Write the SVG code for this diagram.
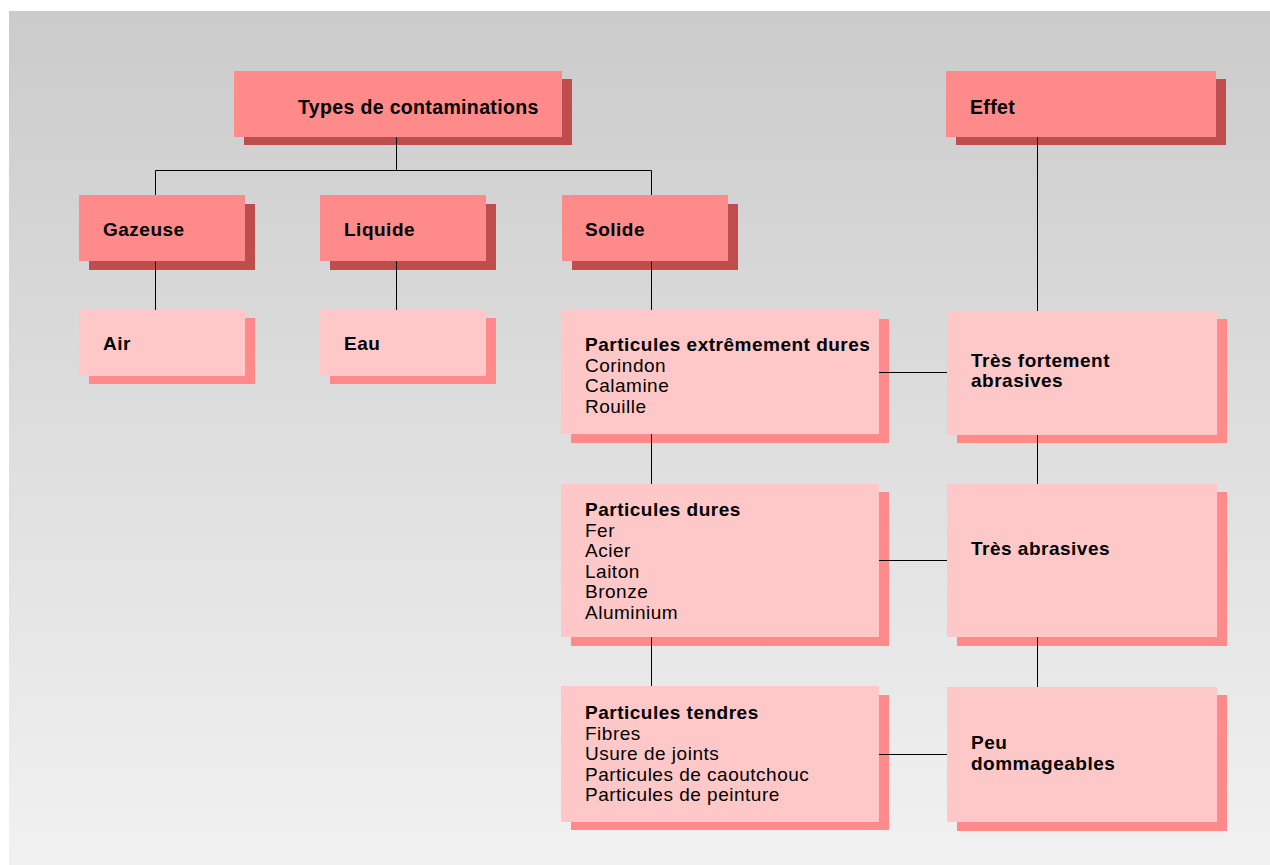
<svg xmlns="http://www.w3.org/2000/svg" width="1270" height="865" viewBox="0 0 1270 865">
  <style>
    .head { fill: #ff8a8a; }
    .head-sh { fill: #be4e4e; }
    .leaf { fill: #ffc8c8; }
    .leaf-sh { fill: #ff8a8a; }
    text { font-family: "Liberation Sans", Arial, Helvetica, sans-serif; font-size: 19px; letter-spacing: 0.5px; fill: #000; }
    .b { font-weight: bold; }
    .title { font-size: 19.5px; letter-spacing: 0.35px; }
    .wire { stroke: #000; stroke-width: 1; fill: none; }
  </style>
  <defs>
    <linearGradient id="bg" x1="0" y1="0" x2="0" y2="1">
      <stop offset="0" stop-color="#cbcbcb"/>
      <stop offset="1" stop-color="#f1f1f1"/>
    </linearGradient>
  </defs>

  <rect x="0" y="0" width="1270" height="865" fill="#ffffff"/>
  <rect x="9" y="11" width="1261" height="854" fill="url(#bg)"/>

  <g id="types">
    <rect class="head-sh" x="244" y="79" width="328" height="66"/>
    <rect class="head" x="234" y="71" width="328" height="66"/>
    <text class="b title" x="298" y="113.5">Types de contaminations</text>
  </g>

  <g id="effet">
    <rect class="head-sh" x="956" y="79" width="270" height="66"/>
    <rect class="head" x="946" y="71" width="270" height="66"/>
    <text class="b title" x="970" y="113.5">Effet</text>
  </g>

  <g id="gazeuse">
    <rect class="head-sh" x="89" y="204" width="166" height="66"/>
    <rect class="head" x="79" y="195" width="166" height="66"/>
    <text class="b" x="103" y="235.5">Gazeuse</text>
  </g>

  <g id="liquide">
    <rect class="head-sh" x="330" y="204" width="166" height="66"/>
    <rect class="head" x="320" y="195" width="166" height="66"/>
    <text class="b" x="344" y="235.5">Liquide</text>
  </g>

  <g id="solide">
    <rect class="head-sh" x="572" y="204" width="166" height="66"/>
    <rect class="head" x="562" y="195" width="166" height="66"/>
    <text class="b" x="585" y="235.5">Solide</text>
  </g>

  <g id="air">
    <rect class="leaf-sh" x="89" y="318" width="166" height="66"/>
    <rect class="leaf" x="79" y="310" width="166" height="66"/>
    <text class="b" x="103" y="350">Air</text>
  </g>

  <g id="eau">
    <rect class="leaf-sh" x="330" y="318" width="166" height="66"/>
    <rect class="leaf" x="320" y="310" width="166" height="66"/>
    <text class="b" x="344" y="350">Eau</text>
  </g>

  <g id="extremement-dures">
    <rect class="leaf-sh" x="571" y="319" width="318" height="124"/>
    <rect class="leaf" x="561" y="310" width="318" height="124"/>
    <text x="585" y="351">
      <tspan class="b">Particules extrêmement dures</tspan>
      <tspan x="585" dy="20.5">Corindon</tspan>
      <tspan x="585" dy="20.5">Calamine</tspan>
      <tspan x="585" dy="20.5">Rouille</tspan>
    </text>
  </g>

  <g id="tres-fortement">
    <rect class="leaf-sh" x="957" y="319" width="270" height="124"/>
    <rect class="leaf" x="947" y="311" width="270" height="124"/>
    <text class="b" x="971" y="366.5">Très fortement<tspan x="971" dy="20">abrasives</tspan></text>
  </g>

  <g id="dures">
    <rect class="leaf-sh" x="571" y="492" width="318" height="154"/>
    <rect class="leaf" x="561" y="484" width="318" height="153"/>
    <text x="585" y="516">
      <tspan class="b">Particules dures</tspan>
      <tspan x="585" dy="20.5">Fer</tspan>
      <tspan x="585" dy="20.5">Acier</tspan>
      <tspan x="585" dy="20.5">Laiton</tspan>
      <tspan x="585" dy="20.5">Bronze</tspan>
      <tspan x="585" dy="20.5">Aluminium</tspan>
    </text>
  </g>

  <g id="tres-abrasives">
    <rect class="leaf-sh" x="957" y="492" width="270" height="154"/>
    <rect class="leaf" x="947" y="484" width="270" height="153"/>
    <text class="b" x="971" y="555">Très abrasives</text>
  </g>

  <g id="tendres">
    <rect class="leaf-sh" x="571" y="695" width="318" height="135"/>
    <rect class="leaf" x="561" y="686" width="318" height="136"/>
    <text x="585" y="719">
      <tspan class="b">Particules tendres</tspan>
      <tspan x="585" dy="20.5">Fibres</tspan>
      <tspan x="585" dy="20.5">Usure de joints</tspan>
      <tspan x="585" dy="20.5">Particules de caoutchouc</tspan>
      <tspan x="585" dy="20.5">Particules de peinture</tspan>
    </text>
  </g>

  <g id="peu-dommageables">
    <rect class="leaf-sh" x="957" y="695" width="270" height="136"/>
    <rect class="leaf" x="947" y="687" width="270" height="135"/>
    <text class="b" x="971" y="749">Peu<tspan x="971" dy="21">dommageables</tspan></text>
  </g>

  <!-- connectors, drawn over the drop shadows -->
  <g id="connectors" class="wire">
    <path d="M396.5 137 V170.5 M155.5 195 V170.5 H651.5 V195"/>
    <path d="M155.5 261 V310"/>
    <path d="M396.5 261 V310"/>
    <path d="M651.5 261 V310 M651.5 434 V484 M651.5 637 V686"/>
    <path d="M1037.5 137 V311 M1037.5 435 V484 M1037.5 637 V687"/>
    <path d="M879 372.5 H947 M879 560.5 H947 M879 754.5 H947"/>
  </g>
</svg>
